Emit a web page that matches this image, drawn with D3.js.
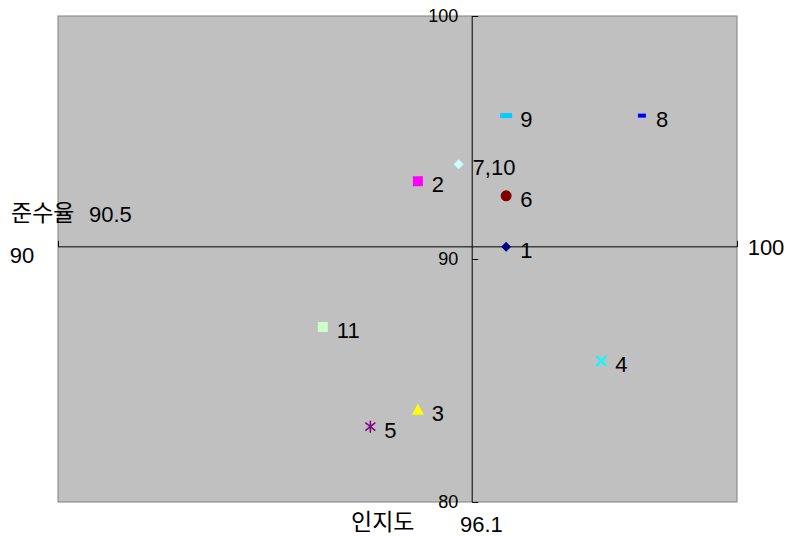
<!DOCTYPE html>
<html><head><meta charset="utf-8">
<script src="https://cdn.jsdelivr.net/npm/d3@7"></script>
<style>
body{margin:0;background:#fff;}
text{font-family:"Liberation Sans","Noto Sans CJK KR",Arial,sans-serif;fill:#000;}
.kr{font-family:"Noto Sans CJK KR","Liberation Sans",sans-serif;}
</style></head>
<body><svg id="c" width="787" height="536"></svg>
<script>
// Data
const labels = ["1","2","3","4","5","6","7,10","8","9","11"];
const awareness = [96.6, 95.3, 95.3, 98.0, 94.6, 96.6, 95.9, 98.6, 96.6, 93.9];
const compliance = [90.5, 93.2, 83.8, 85.8, 83.1, 92.6, 93.9, 95.9, 95.9, 87.2];
const xTicks = [90, 100];
const yTicks = [80, 90, 100];
const xCross = 96.1, yCross = 90.5;
const xTitle = "인지도", yTitle = "준수율";

// Styles
const colors = ["#000080","#FF00FF","#FFFF00","#00FFFF","#800080","#800000","#CCFFFF","#0000FF","#00CCFF","#CCFFCC"];
const shapes = ["diamond","square","triangle","x","star","circle","diamond","dashS","dashL","square"];

const svg = d3.select("#c");
const L=58,R=737,T=16,B=502;
const x = d3.scaleLinear().domain([90,100]).range([L,R]);
const y = d3.scaleLinear().domain([80,100]).range([B,T]);

svg.append("rect").attr("x",L).attr("y",T).attr("width",R-L).attr("height",B-T)
  .attr("fill","#C0C0C0").attr("stroke","#808080").attr("stroke-width",1);

// Vertical axis at x=96.1
const yAxis = d3.axisRight(y).tickValues(yTicks).tickSize(6).tickFormat("");
const gy = svg.append("g").attr("transform",`translate(${x(xCross)},0)`).call(yAxis);
gy.selectAll("path,line").attr("stroke","#000");
gy.select(".domain").attr("d",`M0,${T}V${B}`);
yTicks.forEach(v=>{
  svg.append("text").attr("x",x(xCross)-14).attr("y",y(v)).attr("dy","0.36em")
    .attr("text-anchor","end").attr("font-size",18).text(v);
});

// Horizontal axis at y=90.5
const xAxis = d3.axisTop(x).tickValues(xTicks).tickSize(6).tickFormat("");
const gx = svg.append("g").attr("transform",`translate(0,${y(yCross)})`).call(xAxis);
gx.selectAll("path,line").attr("stroke","#000");
gx.select(".domain").attr("d",`M${L},0H${R}`);
svg.append("text").attr("x",22).attr("y",y(yCross)+8).attr("dy","0.36em")
  .attr("text-anchor","middle").attr("font-size",22).text(xTicks[0]);
svg.append("text").attr("x",766).attr("y",y(yCross)).attr("dy","0.36em")
  .attr("text-anchor","middle").attr("font-size",22).text(xTicks[1]);

// Axis titles
svg.append("text").attr("class","kr").attr("x",11).attr("y",213).attr("dy","0.36em").attr("font-size",23).text(yTitle);
svg.append("text").attr("x",89).attr("y",214).attr("dy","0.36em").attr("font-size",22).text(yCross);
svg.append("text").attr("class","kr").attr("x",351).attr("y",522).attr("dy","0.36em").attr("font-size",23).text(xTitle);
svg.append("text").attr("x",460).attr("y",524).attr("dy","0.36em").attr("font-size",22).text(xCross);

// Points
const g = svg.append("g");
labels.forEach((lab,i)=>{
  const px = x(awareness[i]), py = y(compliance[i]), c = colors[i];
  const s = shapes[i];
  if(s==="square") g.append("rect").attr("x",px-5).attr("y",py-5).attr("width",10).attr("height",10).attr("fill",c);
  else if(s==="diamond") g.append("path").attr("d",`M${px},${py-5}L${px+5},${py}L${px},${py+5}L${px-5},${py}Z`).attr("fill",c);
  else if(s==="circle") g.append("circle").attr("cx",px).attr("cy",py).attr("r",5.5).attr("fill",c);
  else if(s==="triangle") g.append("path").attr("d",`M${px},${py-6}L${px+6},${py+5}L${px-6},${py+5}Z`).attr("fill",c);
  else if(s==="x") g.append("path").attr("d",`M${px-5},${py-5}L${px+5},${py+5}M${px+5},${py-5}L${px-5},${py+5}`).attr("stroke",c).attr("stroke-width",2);
  else if(s==="star") g.append("path").attr("d",`M${px},${py-6}V${py+6}M${px-5},${py-4}L${px+5},${py+4}M${px+5},${py-4}L${px-5},${py+4}`).attr("stroke",c).attr("stroke-width",1.5);
  else if(s==="dashS") g.append("rect").attr("x",px-4).attr("y",py-2).attr("width",8).attr("height",4).attr("fill",c);
  else if(s==="dashL") g.append("rect").attr("x",px-6).attr("y",py-2.5).attr("width",12).attr("height",5).attr("fill",c);
  g.append("text").attr("x",px+14).attr("y",py+3).attr("dy","0.36em").attr("font-size",22).text(lab);
});
</script></body></html>
